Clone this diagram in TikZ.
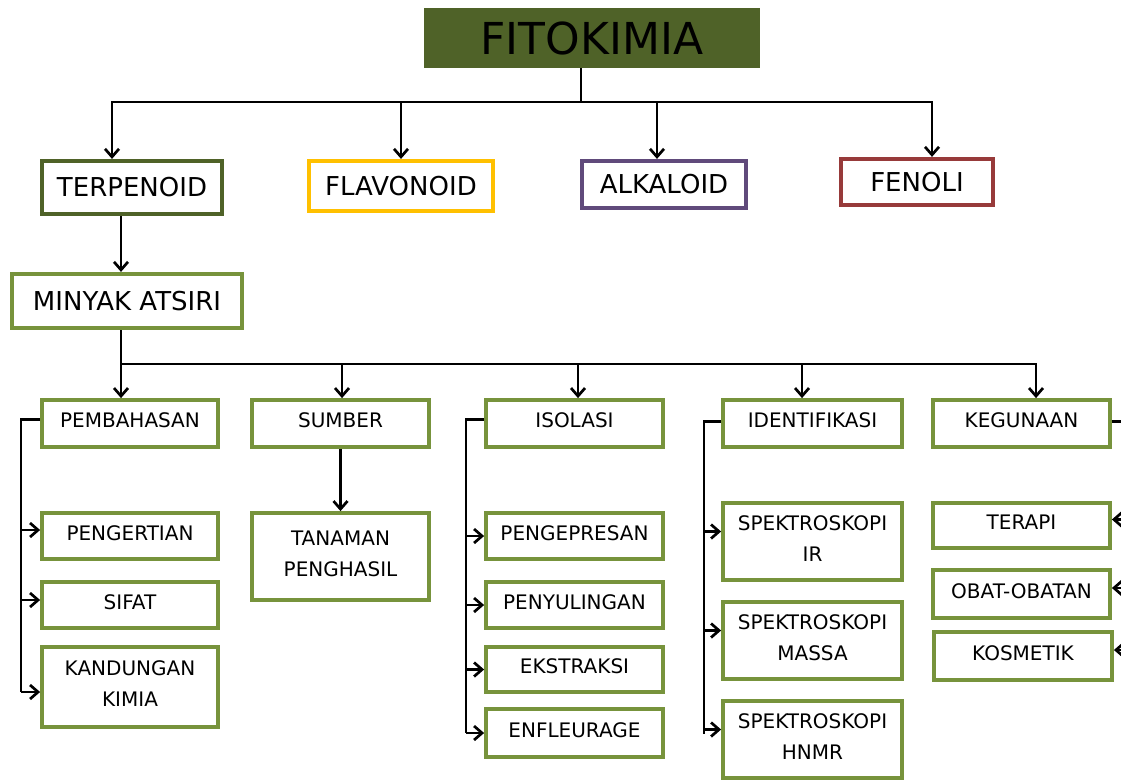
\documentclass[tikz,border=0pt]{standalone}
\usepackage{fontspec}
\setmainfont{DejaVu Sans}
\usetikzlibrary{arrows.meta}

\definecolor{hijautua}{HTML}{4F6228}
\definecolor{hijau}{HTML}{77933C}
\definecolor{kuning}{HTML}{FFC000}
\definecolor{ungu}{HTML}{604A7B}
\definecolor{merah}{HTML}{973A3A}

\begin{document}
\begin{tikzpicture}[x=1pt, y=-1pt,
	kotak/.style={draw=hijau, line width=3.8pt, inner sep=0pt, text depth=6pt, align=center, font=\fontsize{20}{31}\selectfont},
	jenis/.style={draw, line width=4.2pt, inner sep=0pt, font=\fontsize{26}{30}\selectfont},
	garis/.style={line width=2.7pt},
	panah/.style={line width=2.7pt, -{Straight Barb[length=8pt, width=14pt, line width=2.7pt]}}]
			\clip (0, 0) rectangle (1121, 782);
			% Paths, nodes and wires:
			\node[fill=hijautua, minimum width=336, minimum height=60, inner sep=0pt, font=\fontsize{44}{50}\selectfont](fito) at (592, 38){FITOKIMIA};
			\node[jenis, draw=hijautua, minimum width=180, minimum height=53](terpenoid) at (132, 187.5){TERPENOID};
			\node[jenis, draw=kuning, minimum width=184, minimum height=50](flavonoid) at (401, 186){FLAVONOID};
			\node[jenis, draw=ungu, minimum width=164, minimum height=47](alkaloid) at (664, 184.5){ALKALOID};
			\node[jenis, draw=merah, minimum width=152, minimum height=46](fenoli) at (917, 182){FENOLI};
			\node[jenis, draw=hijau, minimum width=230, minimum height=54](minyak) at (127, 301){MINYAK ATSIRI};
			\node[kotak, minimum width=176, minimum height=47](pembahasan) at (130, 423.5){PEMBAHASAN};
			\node[kotak, minimum width=177, minimum height=47](sumber) at (340.5, 423.5){SUMBER};
			\node[kotak, minimum width=177, minimum height=47](isolasi) at (574.5, 423.5){ISOLASI};
			\node[kotak, minimum width=179, minimum height=47](identifikasi) at (812.5, 423.5){IDENTIFIKASI};
			\node[kotak, minimum width=177, minimum height=47](kegunaan) at (1021.5, 423.5){KEGUNAAN};
			\node[kotak, minimum width=176, minimum height=46](pengertian) at (130, 536){PENGERTIAN};
			\node[kotak, minimum width=176, minimum height=46](sifat) at (130, 605){SIFAT};
			\node[kotak, minimum width=176, minimum height=80](kandungan) at (130, 687){KANDUNGAN\\KIMIA};
			\node[kotak, minimum width=177, minimum height=87](tanaman) at (340.5, 556.5){TANAMAN\\PENGHASIL};
			\node[kotak, minimum width=177, minimum height=46](pengepresan) at (574.5, 536){PENGEPRESAN};
			\node[kotak, minimum width=177, minimum height=46](penyulingan) at (574.5, 605){PENYULINGAN};
			\node[kotak, minimum width=177, minimum height=45](ekstraksi) at (574.5, 669.5){EKSTRAKSI};
			\node[kotak, minimum width=177, minimum height=48](enfleurage) at (574.5, 733){ENFLEURAGE};
			\node[kotak, minimum width=179, minimum height=77](ir) at (812.5, 541.5){SPEKTROSKOPI\\IR};
			\node[kotak, minimum width=179, minimum height=77](massa) at (812.5, 640.5){SPEKTROSKOPI\\MASSA};
			\node[kotak, minimum width=179, minimum height=77](hnmr) at (812.5, 739.5){SPEKTROSKOPI\\HNMR};
			\node[kotak, minimum width=177, minimum height=45](terapi) at (1021.5, 525.5){TERAPI};
			\node[kotak, minimum width=177, minimum height=48](obat) at (1021.5, 594){OBAT-OBATAN};
			\node[kotak, minimum width=178, minimum height=48](kosmetik) at (1023, 656){KOSMETIK};
			\coordinate (cab1) at (581, 102);
			\coordinate (cab2) at (121, 364);
			\coordinate (rel1) at (21, 0);
			\coordinate (rel2) at (466, 0);
			\coordinate (rel3) at (704, 0);
			\coordinate (rel4) at (1132, 0);
			% FITOKIMIA ke golongan
			\draw[garis] (fito.south -| cab1) -- (cab1);
			\draw[panah] (cab1) -| ([xshift=-20]terpenoid.north);
			\draw[panah] (cab1) -| (flavonoid.north);
			\draw[panah] (cab1) -| ([xshift=-7]alkaloid.north);
			\draw[panah] (cab1) -| ([xshift=15]fenoli.north);
			\draw[panah] ([xshift=-6]minyak.north |- terpenoid.south) -- ([xshift=-6]minyak.north);
			% minyak atsiri ke cabang
			\draw[garis] ([xshift=-6]minyak.south) -- (cab2);
			\draw[panah] (cab2) -| ([xshift=-9]pembahasan.north);
			\draw[panah] (cab2) -| ([xshift=1.5]sumber.north);
			\draw[panah] (cab2) -| ([xshift=3.5]isolasi.north);
			\draw[panah] (cab2) -| ([xshift=-10.5]identifikasi.north);
			\draw[panah] (cab2) -| ([xshift=14.5]kegunaan.north);
			% anak cabang
			\draw[garis] ([yshift=4]pembahasan.west) -| ([yshift=-5]kandungan.west -| rel1);
			\draw[panah] ([yshift=6]pengertian.west -| rel1) -- ([yshift=6]pengertian.west);
			\draw[panah] ([yshift=5]sifat.west -| rel1) -- ([yshift=5]sifat.west);
			\draw[panah] ([yshift=-5]kandungan.west -| rel1) -- ([yshift=-5]kandungan.west);
			\draw[panah] (sumber.south) -- (tanaman.north);
			\draw[garis] ([yshift=4]isolasi.west) -| (enfleurage.west -| rel2);
			\foreach \n in {pengepresan, penyulingan, ekstraksi, enfleurage}
				\draw[panah] (\n.west -| rel2) -- (\n.west);
			\draw[garis] ([yshift=2]identifikasi.west) -| ([yshift=6]hnmr.west -| rel3);
			\foreach \n in {ir, massa, hnmr}
				\draw[panah] ([yshift=10]\n.west -| rel3) -- ([yshift=10]\n.west);
			\draw[garis] ([yshift=2]kegunaan.east) -| (kosmetik.east -| rel4);
			\foreach \n in {terapi, obat, kosmetik}
				\draw[panah] ([yshift=6]\n.east -| rel4) -- ([yshift=6]\n.east);
		\end{tikzpicture}
\end{document}
